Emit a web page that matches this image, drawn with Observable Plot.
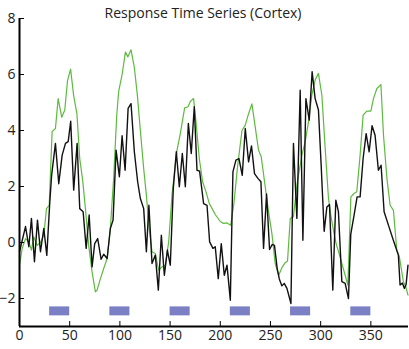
<!DOCTYPE html>
<html><head><meta charset="utf-8">
<script src="https://cdn.jsdelivr.net/npm/d3@7"></script>
<script src="https://cdn.jsdelivr.net/npm/@observablehq/plot@0.6"></script>
<style>body{margin:0;background:#fff;} #chart{width:409px;height:349px;}</style>
</head><body><div id="chart"></div>
<script>
const title = "Response Time Series (Cortex)";
const dataT = [0,6,9.3,11.9,14.9,17.9,20.9,24.2,27.2,30.1,32,35.8,39.1,42.5,45.8,48.5,51,54,57.4,60,63.4,66.4,69.4,72.3,74.9,77.9,81.3,83.9,87.3,90.5,93.2,96.2,99.5,102.2,105.2,108.2,111.1,114.4,117.7,120.4,123.7,126.4,128.9,132,135.3,138.3,141.3,144.3,147.3,150.2,153.2,156.2,159.2,162.2,165.2,168.2,171.1,174.1,176.8,179.4,183.4,186.8,189.4,192.7,195,198,201,204,206.7,210,212.6,215.6,218.6,221.9,224.9,228.2,231.1,234.1,237.5,240.5,243.1,246.1,249.1,251.7,254,256.7,258.8,261.4,263.7,266.4,270.4,272.9,276.3,279.6,282.3,285.3,288.6,291.5,294.5,297.8,300.5,303.5,306.2,308.8,312.1,315.1,317.7,321.1,324.4,327.7,330,333.3,336.3,339.3,342.3,345.3,348.3,351.2,354.2,357.5,360.2,363.2,367.5,372.4,377.4,379.1,381.4,383.4,385.1,387];
const dataY = [-0.33,0.57,-0.15,0.86,-0.69,0.8,-0.33,0.5,-0.46,1.39,2.4,3.54,2.1,3.12,3.54,3.6,4.33,1.87,3.54,1.21,1.1,-0.21,0.98,-0.87,-0.04,0.14,-0.6,-0.42,-0.57,0.5,0.8,3.3,2.35,3.81,2.58,4.79,4.96,3.24,2.17,1.57,1.21,-0.33,1.33,-0.75,-0.45,-1.7,0.26,-1.17,-0.27,-0.81,1.93,3.24,1.99,3.18,1.99,4.25,3.18,4.85,2.58,2.55,1.39,1.33,0.02,-0.21,-0.15,-1.29,-0.04,-1.17,-0.81,-2.06,2.52,2.94,3.0,2.4,4.07,2.88,3.45,2.46,2.29,2.17,-0.21,1.73,-0.25,-0.07,-0.1,-0.93,-1.3,-1.55,-1.46,-1.64,-2.18,3.54,0.86,5.44,0.08,5.14,4.37,6.1,5.14,4.73,2.76,0.4,1.27,1.36,-1.7,1.51,1.1,-1.4,-1.46,-2.0,0.3,0.98,1.63,1.63,3.0,3.89,3.24,4.17,3.83,2.58,2.76,1.1,0.62,0.08,-0.45,-1.52,-1.45,-1.64,-1.5,-0.81];
const modelT = [0,2.7,6,9.3,11.9,14.2,17.6,20.9,24.2,26.9,29.6,32.5,35.8,38.5,42.1,45.1,47.8,50.9,54,57.2,60,63,65.7,68.9,72.3,75.6,77.3,80.6,83.9,87.3,90.5,93.8,96.8,98.8,102.2,105.5,108,111.1,114.4,117.3,120.4,123.7,126.4,128.9,132,135.3,138.6,142,145.3,148.6,151.9,156.9,160.2,164.5,167.9,170.4,173.4,175.8,179.1,182.4,185.8,189.1,192,195,200,203.3,206.7,210.4,213.6,217.2,221.6,224.9,228.2,231.5,234.8,238.1,240.8,244.1,248.1,251.5,254.7,258.2,261.4,264.7,267,269.7,272.9,276.3,281.3,284.6,287.9,291.2,294.5,297.8,301.2,304.5,307.8,310.1,312.7,315.4,318.4,321.1,324.4,327.1,330.1,333.3,336,339.3,342.3,346,350,352.6,356,360,362.6,366,369.2,372.5,375.8,378.4,382.4,384.8,387];
const modelY = [-0.81,-0.21,0.14,0.02,-0.27,0.2,-0.1,0.0,0.26,1.21,1.33,3.96,4.07,5.14,4.47,4.73,5.77,6.19,5.23,4.6,3.0,2.2,1.2,-0.1,-1.05,-1.76,-1.7,-1.29,-0.93,-0.57,0.5,2.3,4.5,5.4,6.0,6.8,6.63,6.88,6.25,5.3,4.0,2.64,1.69,0.6,-0.33,-0.39,-0.99,-0.87,-0.81,0.02,1.69,3.3,3.89,4.81,4.85,5.05,5.14,4.31,3.0,2.17,1.81,1.39,1.2,1.0,0.75,0.68,0.7,0.62,1.4,2.7,4.0,4.19,4.6,4.95,4.13,3.3,3.06,2.17,1.1,0.3,-0.75,-1.17,-0.9,-0.72,-0.66,0.86,0.92,2.05,3.12,3.6,4.31,5.26,5.8,6.04,5.26,3.36,1.57,0.98,0.44,-0.04,-0.4,-0.75,-1.17,-1.52,1.63,1.75,1.81,3.12,4.55,4.69,4.69,5.14,5.5,5.64,3.83,2.29,1.33,1.15,-0.27,-0.51,-1.4,-1.58,-1.88];
const blockOn = [30,90,150,210,270,330];
const blockOff = [50,110,170,230,290,350];
const xTicks = [0,50,100,150,200,250,300,350];
const yTicks = [-2,0,2,4,6,8];

const W = 409, H = 349, mL = 19, mR = 1, mT = 18, mB = 23;
const frameW = W - mL - mR, frameH = H - mT - mB;
const observed = dataT.map((t, i) => ({t, v: dataY[i]}));
const model = modelT.map((t, i) => ({t, v: modelY[i]}));
const blocks = blockOn.map((a, i) => ({on: a, off: blockOff[i]}));

const chart = Plot.plot({
  width: W, height: H,
  marginLeft: mL, marginRight: mR, marginTop: mT, marginBottom: mB,
  style: {fontFamily: "'Open Sans', sans-serif", fontSize: "14px", color: "#222", background: "#fff", overflow: "visible"},
  x: {domain: [0, 387.5], ticks: xTicks, tickSize: 0, tickPadding: 4, label: null},
  y: {domain: [-3, 8], ticks: yTicks, tickSize: 0, tickPadding: 4, label: null},
  marks: [
    Plot.rect(blocks, {x1: "on", x2: "off", y1: -2.3, y2: -2.62, fill: "#7b7fc4"}),
    Plot.line(model, {x: "t", y: "v", stroke: "#5dba3f", strokeWidth: 1.2}),
    Plot.line(observed, {x: "t", y: "v", stroke: "#111", strokeWidth: 1.4}),
    Plot.tickY(yTicks, {y: d => d, insetRight: frameW - 5, stroke: "#000"}),
    Plot.tickX(xTicks, {x: d => d, insetTop: frameH - 5, stroke: "#000"}),
    Plot.ruleX([0], {stroke: "#000", strokeWidth: 2}),
    Plot.ruleY([-3], {stroke: "#000", strokeWidth: 2}),
    Plot.text([title], {text: d => d, frameAnchor: "top", dx: -11, dy: -4.5, lineAnchor: "middle", fontSize: 14, fill: "#222"})
  ]
});
document.getElementById("chart").appendChild(chart);
</script>
</body></html>
